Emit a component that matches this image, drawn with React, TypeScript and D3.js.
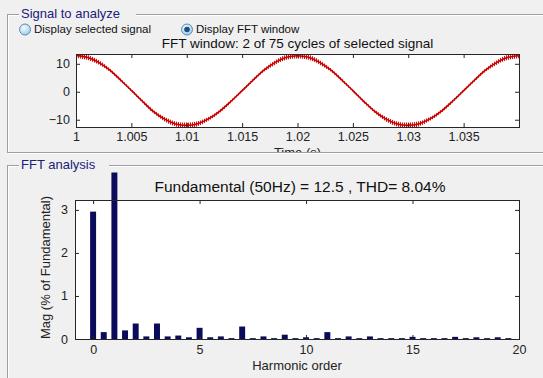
import React, { useRef, useEffect } from "react";
import * as d3 from "d3";

// signal window (one sample per ms)
const sigTime = [
  1.0, 1.001, 1.002, 1.003, 1.004, 1.005, 1.006, 1.007, 1.008, 1.009,
  1.01, 1.011, 1.012, 1.013, 1.014, 1.015, 1.016, 1.017, 1.018, 1.019,
  1.02, 1.021, 1.022, 1.023, 1.024, 1.025, 1.026, 1.027, 1.028, 1.029,
  1.03, 1.031, 1.032, 1.033, 1.034, 1.035, 1.036, 1.037, 1.038, 1.039, 1.04,
];
const sigValue = [
  13.0, 12.3, 10.6, 7.9, 4.3, 0.5, -3.4, -7.1, -9.8, -11.5,
  -12.0, -11.4, -9.6, -6.9, -3.4, 0.4, 4.2, 7.8, 10.5, 12.3,
  12.9, 12.3, 10.5, 7.8, 4.2, 0.4, -3.5, -7.1, -9.8, -11.5,
  -12.0, -11.4, -9.6, -6.9, -3.4, 0.4, 4.2, 7.8, 10.5, 12.3, 12.9,
];
// half thickness of the ripple band around the signal
const sigRipple = [
  0.9, 0.9, 0.8, 0.6, 0.5, 0.4, 0.5, 0.6, 0.8, 0.9,
  1.0, 0.9, 0.7, 0.6, 0.5, 0.4, 0.5, 0.6, 0.8, 0.9,
  1.0, 0.9, 0.8, 0.6, 0.5, 0.4, 0.5, 0.6, 0.8, 0.9,
  1.0, 0.9, 0.7, 0.6, 0.5, 0.4, 0.5, 0.6, 0.8, 0.9, 0.9,
];
const timeTicks = [1, 1.005, 1.01, 1.015, 1.02, 1.025, 1.03, 1.035];
const timeTickLabels = ["1", "1.005", "1.01", "1.015", "1.02", "1.025", "1.03", "1.035"];
const sigTicks = [-10, 0, 10];

// FFT spectrum
const harmonicOrder = [
  0, 0.5, 1, 1.5, 2, 2.5, 3, 3.5, 4, 4.5, 5, 5.5, 6, 6.5, 7, 7.5, 8, 8.5, 9, 9.5,
  10, 10.5, 11, 11.5, 12, 12.5, 13, 13.5, 14, 14.5, 15, 15.5, 16, 16.5, 17, 17.5, 18, 18.5, 19, 19.5,
];
const harmonicMag = [
  2.96, 0.16, 100, 0.2, 0.36, 0.06, 0.36, 0.06, 0.08, 0.04, 0.26, 0.04, 0.06, 0.02, 0.29, 0.02, 0.06, 0.02, 0.1, 0.02,
  0.04, 0.02, 0.16, 0.02, 0.06, 0.02, 0.06, 0.02, 0.02, 0.02, 0.05, 0.02, 0.02, 0.02, 0.05, 0.02, 0.04, 0.02, 0.04, 0.02,
];
const orderTicks = [0, 5, 10, 15, 20];
const magTicks = [0, 1, 2, 3];

const font = "'Liberation Sans', Arial, sans-serif";

export default function App() {
  const ref = useRef<SVGSVGElement>(null);

  useEffect(() => {
    const svg = d3.select(ref.current);
    svg.selectAll("*").remove();

    svg.append("rect").attr("width", 543).attr("height", 378).attr("fill", "#f0f0f0");

    const defs = svg.append("defs");

    // etched panel with title
    const panel = (x: number, y: number, h: number, title: string, tw: number) => {
      svg.append("rect").attr("x", x + 1.5).attr("y", y + 1.5).attr("width", 700).attr("height", h)
        .attr("fill", "none").attr("stroke", "#ffffff");
      svg.append("rect").attr("x", x + 0.5).attr("y", y + 0.5).attr("width", 700).attr("height", h)
        .attr("fill", "none").attr("stroke", "#a0a0a0");
      svg.append("rect").attr("x", x + 12).attr("y", y - 6).attr("width", tw).attr("height", 12).attr("fill", "#f0f0f0");
      svg.append("text").attr("x", x + 14).attr("y", y + 4).attr("font-family", font).attr("font-size", 13)
        .attr("fill", "#20207a").text(title);
    };
    panel(7, 14, 138, "Signal to analyze", 117);
    panel(7, 165, 400, "FFT analysis", 90);

    // radio buttons
    const grad = defs.append("radialGradient").attr("id", "rb").attr("cx", "40%").attr("cy", "35%").attr("r", "70%");
    grad.append("stop").attr("offset", "0%").attr("stop-color", "#f4fbff");
    grad.append("stop").attr("offset", "100%").attr("stop-color", "#9ccbea");
    const radio = (cx: number, label: string, on: boolean) => {
      svg.append("circle").attr("cx", cx).attr("cy", 29.5).attr("r", 5.5)
        .attr("fill", "url(#rb)").attr("stroke", "#5d8cb4");
      if (on) svg.append("circle").attr("cx", cx).attr("cy", 29.5).attr("r", 2.8).attr("fill", "#1d4e86");
      svg.append("text").attr("x", cx + 9).attr("y", 33).attr("font-family", font).attr("font-size", 11.5)
        .attr("fill", "#111").text(label);
    };
    radio(25, "Display selected signal", false);
    radio(187, "Display FFT window", true);

    const tickLen = 4;
    const axisText = (g: any) => g.attr("font-family", font).attr("font-size", 12.5).attr("fill", "#222");

    // ---------- signal plot ----------
    const x1 = d3.scaleLinear().domain([1, 1.04]).range([76, 519]);
    const y1 = d3.scaleLinear().domain([-12.6, 13.5]).range([127, 54]);

    defs.append("clipPath").attr("id", "topPanel").append("rect").attr("x", 0).attr("y", 0).attr("width", 543).attr("height", 152);
    defs.append("clipPath").attr("id", "sigBox").append("rect")
      .attr("x", x1.range()[0]).attr("y", y1.range()[1]).attr("width", x1.range()[1] - x1.range()[0]).attr("height", y1.range()[0] - y1.range()[1]);
    const hatch = defs.append("pattern").attr("id", "ripple").attr("patternUnits", "userSpaceOnUse")
      .attr("width", 2).attr("height", 6);
    hatch.append("rect").attr("width", 1.1).attr("height", 6).attr("fill", "#d20f0f");

    const top = svg.append("g").attr("clip-path", "url(#topPanel)");
    top.append("text").attr("x", (x1.range()[0] + x1.range()[1]) / 2).attr("y", 48).attr("text-anchor", "middle")
      .attr("font-family", font).attr("font-size", 13.5).attr("fill", "#111")
      .text("FFT window: 2 of 75 cycles of selected signal");

    top.append("rect").attr("x", x1.range()[0]).attr("y", y1.range()[1])
      .attr("width", x1.range()[1] - x1.range()[0]).attr("height", y1.range()[0] - y1.range()[1]).attr("fill", "#fff");

    const pts = sigTime.map((t, i) => ({ t, v: sigValue[i], r: sigRipple[i] }));
    const sig = top.append("g").attr("clip-path", "url(#sigBox)");
    sig.append("path").datum(pts)
      .attr("d", d3.area<any>().x(d => x1(d.t)).y0(d => y1(d.v - d.r)).y1(d => y1(d.v + d.r)).curve(d3.curveCatmullRom))
      .attr("fill", "url(#ripple)");
    sig.append("path").datum(pts)
      .attr("d", d3.line<any>().x(d => x1(d.t)).y(d => y1(d.v)).curve(d3.curveCatmullRom))
      .attr("fill", "none").attr("stroke", "#c80000").attr("stroke-width", 1.6);

    const xb1 = top.append("g").attr("transform", `translate(0,${y1.range()[0]})`)
      .call(d3.axisBottom(x1).tickValues(timeTicks).tickFormat((d, i) => timeTickLabels[i]).tickSizeInner(-tickLen).tickSizeOuter(0).tickPadding(5));
    top.append("g").attr("transform", `translate(0,${y1.range()[1]})`)
      .call(d3.axisTop(x1).tickValues(timeTicks).tickFormat(() => "").tickSizeInner(-tickLen).tickSizeOuter(0));
    top.append("g").attr("transform", `translate(${x1.range()[0]},0)`)
      .call(d3.axisLeft(y1).tickValues(sigTicks).tickSizeInner(-tickLen).tickSizeOuter(0).tickPadding(6));
    top.append("g").attr("transform", `translate(${x1.range()[1]},0)`)
      .call(d3.axisRight(y1).tickValues(sigTicks).tickFormat(() => "").tickSizeInner(-tickLen).tickSizeOuter(0));
    top.selectAll(".domain").remove();
    top.selectAll(".tick line").attr("stroke", "#262626");
    axisText(top.selectAll(".tick text"));
    xb1.selectAll(".tick text").attr("dy", "0.71em");

    top.append("rect").attr("x", x1.range()[0] + 0.5).attr("y", y1.range()[1] + 0.5)
      .attr("width", x1.range()[1] - x1.range()[0]).attr("height", y1.range()[0] - y1.range()[1])
      .attr("fill", "none").attr("stroke", "#262626");

    top.append("text").attr("x", (x1.range()[0] + x1.range()[1]) / 2).attr("y", 156.5).attr("text-anchor", "middle")
      .attr("font-family", font).attr("font-size", 13).attr("fill", "#222").text("Time (s)");

    // ---------- FFT bar plot ----------
    const x2 = d3.scaleLinear().domain([-0.85, 20]).range([75, 519]);
    const y2 = d3.scaleLinear().domain([0, 3.23]).range([339, 200]);
    const barW = x2(0.28) - x2(0);

    svg.append("text").attr("x", (x2.range()[0] + x2.range()[1]) / 2 + 3).attr("y", 191.5).attr("text-anchor", "middle")
      .attr("font-family", font).attr("font-size", 15.5).attr("fill", "#111")
      .text("Fundamental (50Hz) = 12.5 , THD= 8.04%");

    svg.append("rect").attr("x", x2.range()[0]).attr("y", y2.range()[1])
      .attr("width", x2.range()[1] - x2.range()[0]).attr("height", y2.range()[0] - y2.range()[1]).attr("fill", "#fff");

    defs.append("clipPath").attr("id", "bars").append("rect").attr("x", x2.range()[0]).attr("y", 172.5)
      .attr("width", x2.range()[1] - x2.range()[0]).attr("height", 200);

    const bars = harmonicOrder.map((o, i) => ({ o, m: harmonicMag[i] }));
    svg.append("g").attr("clip-path", "url(#bars)").selectAll("rect").data(bars).enter().append("rect")
      .attr("x", d => x2(d.o) - barW / 2).attr("width", barW)
      .attr("y", d => y2(d.m)).attr("height", d => y2(0) - y2(d.m))
      .attr("fill", "#0b0b5c");

    const ax = svg.append("g");
    const xb2 = ax.append("g").attr("transform", `translate(0,${y2.range()[0]})`)
      .call(d3.axisBottom(x2).tickValues(orderTicks).tickFormat(d3.format("d")).tickSizeInner(-tickLen).tickSizeOuter(0).tickPadding(6));
    ax.append("g").attr("transform", `translate(0,${y2.range()[1]})`)
      .call(d3.axisTop(x2).tickValues(orderTicks).tickFormat(() => "").tickSizeInner(-tickLen).tickSizeOuter(0));
    ax.append("g").attr("transform", `translate(${x2.range()[0]},0)`)
      .call(d3.axisLeft(y2).tickValues(magTicks).tickFormat(d3.format("d")).tickSizeInner(-tickLen).tickSizeOuter(0).tickPadding(7));
    ax.append("g").attr("transform", `translate(${x2.range()[1]},0)`)
      .call(d3.axisRight(y2).tickValues(magTicks).tickFormat(() => "").tickSizeInner(-tickLen).tickSizeOuter(0));
    ax.selectAll(".domain").remove();
    ax.selectAll(".tick line").attr("stroke", "#262626");
    axisText(ax.selectAll(".tick text"));
    xb2.selectAll(".tick text").attr("dy", "0.71em");

    ax.append("rect").attr("x", x2.range()[0] + 0.5).attr("y", y2.range()[1] + 0.5)
      .attr("width", x2.range()[1] - x2.range()[0]).attr("height", y2.range()[0] - y2.range()[1])
      .attr("fill", "none").attr("stroke", "#262626");

    svg.append("text").attr("x", (x2.range()[0] + x2.range()[1]) / 2).attr("y", 370).attr("text-anchor", "middle")
      .attr("font-family", font).attr("font-size", 13).attr("fill", "#222").text("Harmonic order");
    svg.append("text").attr("transform", `translate(50,${(y2.range()[0] + y2.range()[1]) / 2 - 2}) rotate(-90)`)
      .attr("text-anchor", "middle").attr("font-family", font).attr("font-size", 13).attr("fill", "#222")
      .text("Mag (% of Fundamental)");
  }, []);

  return <svg ref={ref} width={543} height={378} style={{ position: "absolute", left: 0, top: 0 }} />;
}
